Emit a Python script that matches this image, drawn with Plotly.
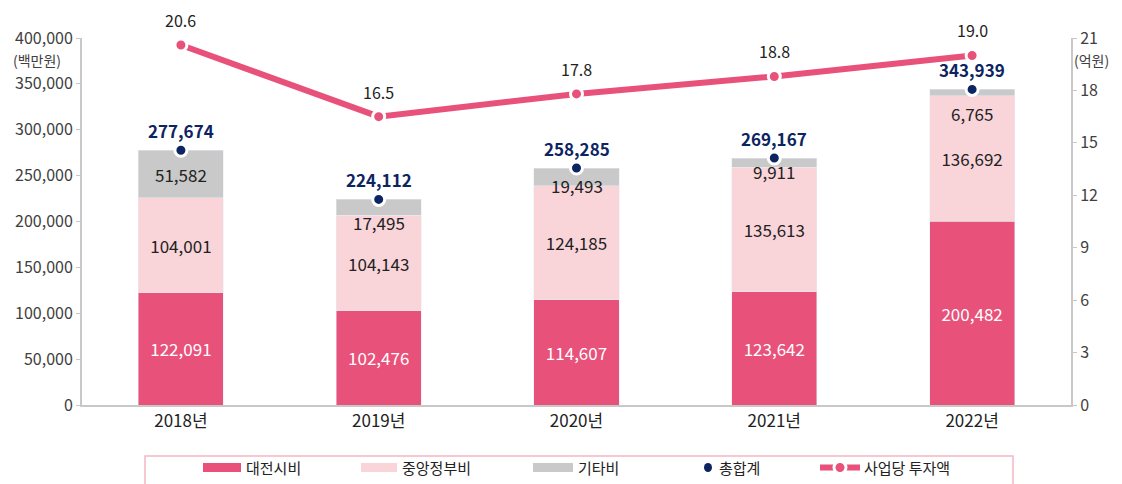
import plotly.graph_objects as go

years = ["2018년", "2019년", "2020년", "2021년", "2022년"]
city = [122091, 102476, 114607, 123642, 200482]
central = [104001, 104143, 124185, 135613, 136692]
other = [51582, 17495, 19493, 9911, 6765]
total = [277674, 224112, 258285, 269167, 343939]
per_project = [20.6, 16.5, 17.8, 18.8, 20.0]          # plotted position as drawn
per_project_labels = ["20.6", "16.5", "17.8", "18.8", "19.0"]  # labels as printed

C_RED = "#E8517A"
C_PINK = "#F9D5DA"
C_GRAY = "#C9C9C9"
C_NAVY = "#0C2461"
FONT = "Noto Sans CJK KR"

fmt = lambda v: f"{v:,}"

fig = go.Figure()
fig.add_trace(go.Bar(x=years, y=city, marker_color=C_RED, width=0.43,
                     text=[fmt(v) for v in city], textposition="inside",
                     insidetextanchor="middle", textangle=0,
                     textfont=dict(color="white", size=17, family=FONT),
                     constraintext="none", showlegend=False, hoverinfo="skip"))
fig.add_trace(go.Bar(x=years, y=central, marker_color=C_PINK, width=0.43,
                     text=[fmt(v) for v in central], textposition="inside",
                     insidetextanchor="middle", textangle=0,
                     textfont=dict(color="#222222", size=17, family=FONT),
                     constraintext="none", showlegend=False, hoverinfo="skip"))
fig.add_trace(go.Bar(x=years, y=other, marker_color=C_GRAY, width=0.43,
                     showlegend=False, hoverinfo="skip"))
fig.add_trace(go.Scatter(x=years, y=total, mode="markers",
                         marker=dict(color=C_NAVY, size=12, line=dict(color="white", width=3)),
                         showlegend=False, hoverinfo="skip"))
fig.add_trace(go.Scatter(x=years, y=per_project, yaxis="y2", mode="lines+markers",
                         line=dict(color=C_RED, width=6),
                         marker=dict(color=C_RED, size=12, line=dict(color="white", width=3)),
                         showlegend=False, hoverinfo="skip"))

other_shift = [-24, -23, -17, -13, -24]
ann = []
for i, y in enumerate(years):
    ann.append(dict(x=y, y=total[i], xref="x", yref="y", text=fmt(other[i]),
                    showarrow=False, yshift=other_shift[i],
                    font=dict(size=17, color="#222222", family=FONT)))
    ann.append(dict(x=y, y=total[i], xref="x", yref="y", text=f"<b>{fmt(total[i])}</b>",
                    showarrow=False, yshift=20,
                    font=dict(size=17, color=C_NAVY, family=FONT)))
    ann.append(dict(x=y, y=per_project[i], xref="x", yref="y2", text=per_project_labels[i],
                    showarrow=False, yshift=25,
                    font=dict(size=16, color="#222222", family=FONT)))

ann.append(dict(x=-0.045, y=0.940, xref="paper", yref="paper", text="(백만원)", showarrow=False,
                xanchor="center", yanchor="middle", font=dict(size=14, color="#404040", family=FONT)))
ann.append(dict(x=1.021, y=0.940, xref="paper", yref="paper", text="(억원)", showarrow=False,
                xanchor="center", yanchor="middle", font=dict(size=14, color="#404040", family=FONT)))

# custom legend (paper coords in screen pixels: x 0->82px, 1->1071px ; y 0->405px, 1->38px)
PX0, PW, PY0, PH = 82, 989, 405, 367
px = lambda v: (v - PX0) / PW
py = lambda v: (PY0 - v) / PH
shapes = [dict(type="rect", xref="paper", yref="paper", x0=px(145), x1=px(1013), y0=py(456), y1=py(490),
               line=dict(color="#F4B7C3", width=1.5), fillcolor="rgba(0,0,0,0)")]
legend_items = [("대전시비", C_RED, 203, 241), ("중앙정부비", C_PINK, 361, 397), ("기타비", C_GRAY, 533, 573)]
for name, col, a, b in legend_items:
    shapes.append(dict(type="rect", xref="paper", yref="paper", x0=px(a), x1=px(b), y0=py(472), y1=py(463),
                       fillcolor=col, line=dict(width=0)))
    ann.append(dict(x=px(b + 3), y=py(467.5), xref="paper", yref="paper", text=name, showarrow=False,
                    xanchor="left", yanchor="middle", font=dict(size=15, color="#222222", family=FONT)))
shapes.append(dict(type="circle", xref="paper", yref="paper", x0=px(704), x1=px(712), y0=py(472), y1=py(463),
                   fillcolor=C_NAVY, line=dict(width=0)))
ann.append(dict(x=px(717), y=py(467.5), xref="paper", yref="paper", text="총합계", showarrow=False,
                xanchor="left", yanchor="middle", font=dict(size=15, color="#222222", family=FONT)))
shapes.append(dict(type="line", xref="paper", yref="paper", x0=px(820), x1=px(860), y0=py(467.5), y1=py(467.5),
                   line=dict(color=C_RED, width=6)))
shapes.append(dict(type="circle", xref="paper", yref="paper", x0=px(834), x1=px(846), y0=py(473.5), y1=py(461.5),
                   fillcolor=C_RED, line=dict(color="white", width=3)))
ann.append(dict(x=px(862), y=py(467.5), xref="paper", yref="paper", text="사업당 투자액", showarrow=False,
                xanchor="left", yanchor="middle", font=dict(size=15, color="#222222", family=FONT)))

# page body has an 8px margin: figure is drawn from (8, 8) of the window
fig.update_layout(
    width=1114, height=476, barmode="stack", bargap=0.57,
    margin=dict(l=74, r=51, t=30, b=79, autoexpand=False),
    plot_bgcolor="white", paper_bgcolor="white",
    font=dict(family=FONT, color="#404040", size=15),
    xaxis=dict(type="category", showgrid=False, showline=True, linecolor="#C8C8C8", linewidth=2,
               ticks="", tickfont=dict(size=17, color="#222222"), fixedrange=True, automargin=False),
    yaxis=dict(range=[0, 400000], dtick=50000, tickformat=",", showgrid=False, zeroline=False,
               showline=True, linecolor="#C8C8C8", linewidth=2, ticks="outside", ticklen=4,
               tickcolor="#C8C8C8", tickfont=dict(size=16, color="#404040"), automargin=False),
    yaxis2=dict(range=[0, 21], dtick=3, overlaying="y", side="right", showgrid=False, zeroline=False,
                showline=True, linecolor="#C8C8C8", linewidth=2, ticks="outside", ticklen=4,
                tickcolor="#C8C8C8", tickfont=dict(size=16, color="#404040"), automargin=False),
    annotations=ann, shapes=shapes, showlegend=False,
)

fig.write_html("out.html")
